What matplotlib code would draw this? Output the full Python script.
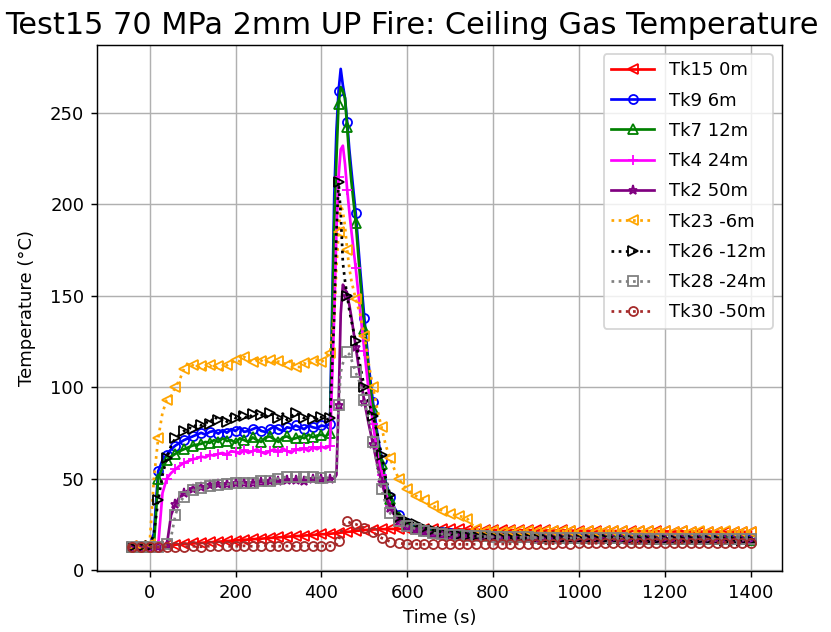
import numpy as np
import matplotlib
matplotlib.use("Agg")
import matplotlib.pyplot as plt

# sample times (s): 10 s before the fire, 5 s around the peak, 20 s in the tail
time = np.concatenate([
    np.arange(-50, 430, 10),
    [430, 435, 440, 445, 450, 455, 460, 465, 470],
    np.arange(480, 810, 10),
    np.arange(820, 1410, 20),
])

tk15 = [13.0, 12.9, 13.1, 13.0, 12.9, 13.0, 13.1, 13.2, 13.3, 13.4,
        13.6, 13.8, 14.0, 14.1, 14.3, 14.5, 14.6, 14.8, 15.0, 15.1,
        15.3, 15.5, 15.6, 15.8, 16.0, 16.1, 16.3, 16.5, 16.6, 16.8,
        17.0, 17.1, 17.3, 17.5, 17.6, 17.8, 18.0, 18.2, 18.3, 18.5,
        18.6, 18.8, 19.0, 19.1, 19.3, 19.5, 19.6, 19.8,
        20.0, 20.1, 20.2, 20.4, 20.5, 20.6, 20.8, 20.9, 21.0,
        21.3, 21.6, 21.8, 22.0, 22.1, 22.2, 22.3, 22.3, 22.4, 22.4,
        22.4, 22.5, 22.4, 22.5, 22.4, 22.4, 22.3, 22.4, 22.3, 22.3,
        22.2, 22.3, 22.2, 22.1, 22.2, 22.1, 22.0, 22.1, 22.0, 21.9,
        22.0, 21.9, 21.9,
        21.8, 21.8, 21.7, 21.7, 21.6, 21.6, 21.5, 21.6, 21.5, 21.4,
        21.4, 21.3, 21.4, 21.3, 21.2, 21.3, 21.2, 21.1, 21.2, 21.1,
        21.0, 21.1, 21.0, 20.9, 21.0, 20.9, 20.8, 20.9, 20.8, 20.8]

tk9 = [12.8, 12.7, 12.8, 12.9, 12.8, 12.9, 20.0, 54.0, 60.0, 63.0,
       66.0, 68.0, 69.5, 71.0, 72.0, 73.0, 74.0, 75.0, 74.0, 75.5,
       76.0, 74.5, 76.5, 75.0, 77.0, 76.0, 78.0, 75.5, 76.0, 77.0,
       78.0, 76.0, 75.5, 77.0, 78.5, 77.0, 76.0, 78.0, 77.5, 79.0,
       78.0, 77.0, 79.0, 78.0, 77.5, 79.0, 78.5, 80.0,
       205.0, 240.0, 262.0, 274.0, 265.0, 258.0, 245.0, 230.0, 218.0,
       195.0, 165.0, 138.0, 112.0, 92.0, 75.0, 60.0, 48.0, 40.0, 34.0,
       30.0, 27.5, 25.5, 24.0, 23.0, 22.5, 22.0, 21.5, 21.0, 20.8,
       20.5, 20.2, 20.0, 19.8, 19.6, 19.5, 19.3, 19.2, 19.0, 18.9,
       18.8, 18.7, 18.6,
       18.5, 18.4, 18.3, 18.2, 18.1, 18.0, 17.9, 17.9, 17.8, 17.7,
       17.7, 17.6, 17.6, 17.5, 17.5, 17.4, 17.4, 17.3, 17.3, 17.2,
       17.2, 17.1, 17.1, 17.0, 17.0, 17.0, 16.9, 16.9, 16.9, 16.8]

tk7 = [12.9, 12.8, 12.9, 12.8, 12.9, 12.8, 13.2, 50.0, 56.0, 60.0,
       62.0, 63.5, 65.0, 66.0, 67.0, 68.0, 68.5, 69.0, 70.0, 69.5,
       71.0, 70.0, 72.0, 70.5, 71.0, 69.5, 72.0, 71.0, 70.0, 72.5,
       71.0, 70.0, 72.5, 73.0, 71.5, 70.0, 72.5, 73.0, 71.5, 72.0,
       73.0, 72.0, 74.0, 72.5, 73.5, 74.0, 73.0, 75.0,
       190.0, 225.0, 255.0, 264.0, 262.0, 258.0, 242.0, 225.0, 212.0,
       190.0, 160.0, 132.0, 108.0, 88.0, 72.0, 58.0, 47.0, 39.0, 33.0,
       29.0, 26.5, 25.0, 23.8, 22.8, 22.2, 21.8, 21.3, 20.9, 20.6,
       20.3, 20.1, 19.9, 19.6, 19.5, 19.3, 19.1, 19.0, 18.9, 18.8,
       18.7, 18.6, 18.5,
       18.3, 18.2, 18.1, 18.0, 17.9, 17.8, 17.8, 17.7, 17.6, 17.6,
       17.5, 17.4, 17.4, 17.3, 17.3, 17.2, 17.2, 17.1, 17.1, 17.0,
       17.0, 16.9, 16.9, 16.8, 16.8, 16.8, 16.7, 16.7, 16.7, 16.6]

tk4 = [12.7, 12.6, 12.7, 12.6, 12.7, 12.6, 12.8, 13.5, 42.0, 50.0,
       53.0, 55.0, 57.0, 58.5, 59.5, 60.5, 61.0, 62.0, 61.5, 63.0,
       62.5, 63.5, 64.0, 63.0, 65.0, 64.5, 63.5, 65.5, 64.0, 65.0,
       66.0, 64.5, 63.5, 65.0, 66.0, 64.5, 66.5, 65.0, 64.0, 66.0,
       65.5, 66.5, 65.0, 67.0, 66.0, 67.5, 66.5, 68.0,
       140.0, 185.0, 215.0, 230.0, 232.0, 222.0, 208.0, 196.0, 185.0,
       165.0, 142.0, 120.0, 98.0, 80.0, 64.0, 52.0, 42.0, 35.0, 30.0,
       27.0, 25.0, 23.5, 22.5, 21.8, 21.2, 20.8, 20.4, 20.1, 19.9,
       19.7, 19.5, 19.3, 19.1, 19.0, 18.8, 18.7, 18.6, 18.5, 18.4,
       18.3, 18.2, 18.1,
       18.0, 17.9, 17.8, 17.7, 17.6, 17.6, 17.5, 17.4, 17.4, 17.3,
       17.3, 17.2, 17.2, 17.1, 17.1, 17.0, 17.0, 16.9, 16.9, 16.9,
       16.8, 16.8, 16.8, 16.7, 16.7, 16.7, 16.6, 16.6, 16.6, 16.5]

tk2 = [12.6, 12.5, 12.6, 12.5, 12.6, 12.5, 12.6, 12.7, 12.8, 13.5,
       30.0, 36.0, 40.0, 42.0, 43.5, 44.5, 45.0, 45.5, 46.0, 46.2,
       46.5, 46.8, 47.0, 47.2, 47.5, 47.3, 47.6, 47.8, 48.0, 47.8,
       48.0, 48.3, 48.1, 48.5, 48.7, 48.4, 48.8, 49.0, 48.7, 49.0,
       49.2, 48.9, 49.3, 49.5, 49.2, 49.6, 49.4, 49.8,
       50.0, 52.0, 90.0, 140.0, 156.0, 154.0, 150.0, 145.0, 138.0,
       122.0, 106.0, 92.0, 80.0, 69.0, 58.0, 48.0, 40.0, 34.0, 30.0,
       27.0, 25.0, 23.5, 22.5, 21.7, 21.0, 20.5, 20.1, 19.8, 19.5,
       19.3, 19.1, 18.9, 18.8, 18.6, 18.5, 18.4, 18.3, 18.2, 18.1,
       18.0, 17.9, 17.9,
       17.8, 17.7, 17.6, 17.6, 17.5, 17.4, 17.4, 17.3, 17.3, 17.2,
       17.2, 17.1, 17.1, 17.0, 17.0, 17.0, 16.9, 16.9, 16.9, 16.8,
       16.8, 16.8, 16.7, 16.7, 16.7, 16.6, 16.6, 16.6, 16.6, 16.5]

tk23 = [13.0, 12.9, 13.0, 12.9, 13.0, 14.0, 50.0, 72.0, 86.0, 93.0,
        95.0, 100.0, 104.0, 110.0, 113.5, 112.0, 110.5, 111.5, 110.0, 112.0,
        110.0, 111.5, 109.5, 112.0, 113.0, 115.0, 114.0, 116.5, 115.0, 113.5,
        116.0, 114.5, 113.0, 115.0, 112.5, 114.0, 113.5, 112.0, 115.0, 111.0,
        111.0, 113.0, 112.0, 114.5, 115.0, 113.5, 116.0, 118.5,
        140.0, 165.0, 185.0, 200.0, 196.0, 188.0, 175.0, 165.0, 158.0,
        148.0, 140.0, 128.0, 113.0, 100.0, 88.0, 78.0, 68.0, 61.0, 55.0,
        50.0, 46.5, 44.0, 42.0, 40.5, 39.5, 38.0, 36.0, 35.0, 34.0,
        32.5, 31.0, 30.5, 30.0, 29.5, 29.0, 28.0, 25.0, 22.5, 21.5,
        21.2, 21.0, 21.2,
        21.0, 21.3, 21.1, 21.4, 21.0, 21.2, 21.5, 21.1, 21.3, 21.0,
        21.2, 21.0, 21.3, 21.1, 21.2, 20.9, 21.1, 21.3, 21.0, 21.2,
        20.9, 21.1, 21.0, 21.2, 20.8, 21.0, 21.1, 20.9, 21.0, 20.8]

tk26 = [12.8, 12.7, 12.8, 12.7, 12.8, 12.9, 20.0, 38.0, 52.0, 61.0,
        68.0, 72.0, 74.0, 76.0, 78.0, 77.0, 80.0, 79.0, 81.0, 80.0,
        84.0, 82.0, 83.5, 81.0, 85.0, 83.0, 86.0, 84.0, 82.5, 85.5,
        87.0, 85.0, 83.0, 86.0, 84.0, 83.0, 85.5, 82.0, 84.0, 86.0,
        84.5, 83.0, 85.0, 82.5, 84.0, 83.5, 82.0, 83.0,
        140.0, 185.0, 212.0, 195.0, 168.0, 158.0, 150.0, 142.0, 136.0,
        125.0, 112.0, 100.0, 92.0, 84.0, 75.0, 63.0, 50.0, 41.0, 34.0,
        29.0, 27.5, 27.0, 26.0, 25.0, 24.0, 23.0, 22.3, 21.7, 21.2,
        20.8, 20.4, 20.0, 19.6, 19.3, 19.0, 18.8, 18.6, 18.4, 18.2,
        18.0, 17.9, 17.8,
        17.6, 17.5, 17.4, 17.3, 17.2, 17.1, 17.0, 17.0, 16.9, 16.8,
        16.8, 16.7, 16.7, 16.6, 16.6, 16.5, 16.5, 16.4, 16.4, 16.4,
        16.3, 16.3, 16.3, 16.2, 16.2, 16.2, 16.1, 16.1, 16.1, 16.0]

tk28 = [12.7, 12.6, 12.7, 12.6, 12.7, 12.6, 12.7, 12.8, 13.0, 14.0,
        18.0, 30.0, 37.0, 40.0, 42.0, 43.5, 44.5, 45.0, 45.5, 46.0,
        46.3, 46.7, 47.0, 46.8, 47.3, 47.5, 47.2, 47.8, 48.0, 47.7,
        48.2, 48.5, 49.0, 48.7, 49.5, 50.0, 50.5, 51.0, 51.5, 51.0,
        50.5, 50.8, 50.3, 50.6, 50.2, 50.5, 50.3, 50.6,
        51.0, 52.0, 90.0, 108.0, 113.0, 116.0, 119.0, 118.0, 115.0,
        108.0, 102.0, 93.0, 82.0, 70.0, 57.0, 44.0, 36.0, 31.0, 28.5,
        26.5, 25.0, 24.0, 23.2, 22.5, 21.8, 21.2, 20.7, 20.2, 19.9,
        19.6, 19.4, 19.2, 19.0, 18.9, 18.8, 18.7, 18.6, 18.5, 18.4,
        18.3, 18.2, 18.1,
        18.0, 17.9, 17.8, 17.8, 17.7, 17.6, 17.6, 17.5, 17.5, 17.4,
        17.4, 17.3, 17.3, 17.2, 17.2, 17.1, 17.1, 17.1, 17.0, 17.0,
        17.0, 16.9, 16.9, 16.9, 16.8, 16.8, 16.8, 16.7, 16.7, 16.7]

tk30 = [12.6, 12.5, 12.6, 12.5, 12.6, 12.5, 12.6, 12.5, 12.7, 12.6,
        12.8, 12.6, 12.9, 12.7, 12.8, 13.0, 12.8, 12.7, 12.9, 13.0,
        12.8, 13.0, 12.9, 13.1, 12.8, 13.0, 12.9, 13.2, 13.0, 12.9,
        13.1, 12.9, 13.2, 13.0, 13.1, 12.9, 13.2, 13.0, 13.1, 12.9,
        13.2, 13.0, 13.1, 12.9, 13.2, 13.0, 13.1, 13.2,
        13.3, 13.8, 16.0, 20.0, 24.0, 26.0, 26.5, 26.0, 25.5,
        25.0, 24.0, 23.0, 22.0, 20.5, 19.0, 17.5, 16.5, 15.5, 15.0,
        14.6, 14.4, 14.3, 14.2, 14.1, 14.1, 14.0, 14.0, 14.0, 14.0,
        14.0, 14.0, 14.1, 14.0, 14.0, 14.1, 14.0, 14.0, 14.1, 14.1,
        14.1, 14.2, 14.1,
        14.2, 14.3, 14.2, 14.3, 14.4, 14.3, 14.4, 14.5, 14.4, 14.5,
        14.5, 14.6, 14.5, 14.6, 14.6, 14.7, 14.6, 14.7, 14.7, 14.8,
        14.8, 14.8, 14.9, 14.8, 14.9, 14.9, 15.0, 14.9, 15.0, 15.0]

labels = ["Tk15 0m", "Tk9 6m", "Tk7 12m", "Tk4 24m", "Tk2 50m",
          "Tk23 -6m", "Tk26 -12m", "Tk28 -24m", "Tk30 -50m"]
series = [tk15, tk9, tk7, tk4, tk2, tk23, tk26, tk28, tk30]
colors = ["red", "blue", "green", "magenta", "purple",
          "orange", "black", "gray", "brown"]
markers = ["<", "o", "^", "+", "*", "<", ">", "s", "o"]
styles = ["-"] * 5 + [":"] * 4

# one marker every 20 s
marks = list(time % 20 == 0)

fig = plt.figure(figsize=(831 / 130, 632 / 130), dpi=130)
ax = fig.add_subplot(111)
fig.subplots_adjust(left=97 / 831, right=782 / 831, bottom=1 - 571 / 632, top=1 - 45 / 632)

for vals, lab, c, m, ls in zip(series, labels, colors, markers, styles):
    ax.plot(time, vals, linestyle=ls, color=c, marker=m, markersize=5,
            markerfacecolor="none", markevery=marks, label=lab)

ax.set_xlabel("Time (s)")
ax.set_ylabel("Temperature (°C)", labelpad=8)
# title is wider than the axes, so shift it to stay inside the figure
ax.set_title("Test15 70 MPa 2mm UP Fire: Ceiling Gas Temperature", fontsize=16.8, x=0.46)
ax.set_xticks(range(0, 1401, 200))
ax.grid(True)
ax.legend(loc="upper right", handlelength=2.4, labelspacing=0.68)

fig.savefig("out.png", dpi=130)
